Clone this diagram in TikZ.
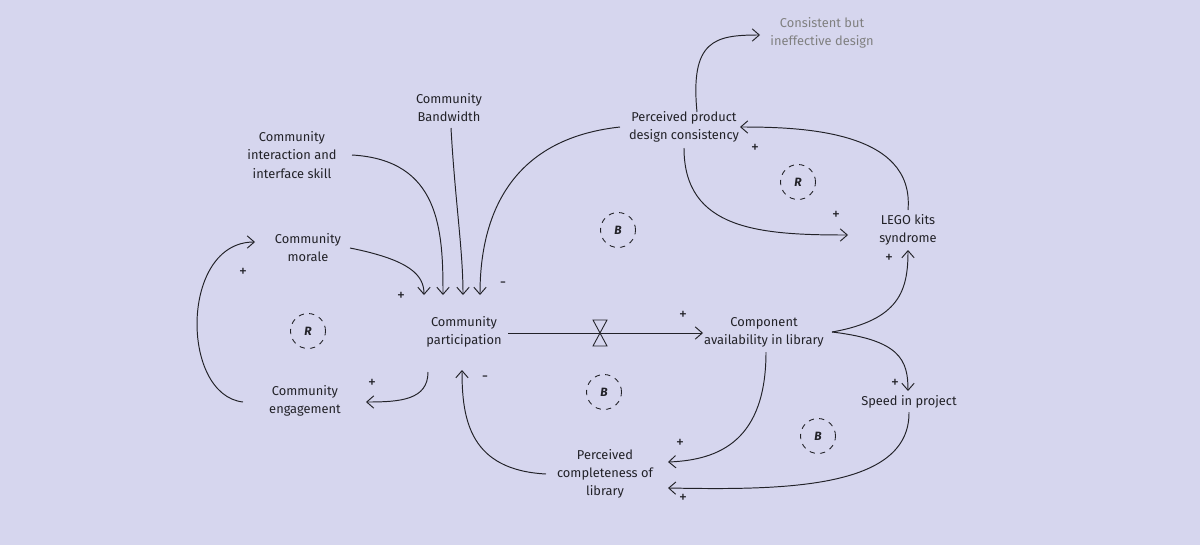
\documentclass[tikz,border=0pt]{standalone}
\usepackage{fontspec}
\setmainfont{Fira Sans}[Scale=0.95]
\usetikzlibrary{arrows.meta}
\definecolor{bg}{HTML}{D6D6EE}
\definecolor{ink}{HTML}{222228}
\begin{document}
\begin{tikzpicture}[x=0.02cm,y=-0.02cm,
  lbl/.style={align=center,text=ink,font=\fontsize{7.7}{10.3}\selectfont,inner sep=1pt},
  ed/.style={draw=ink,line width=0.55pt,-{Straight Barb[length=4pt,width=7pt]}},
  sg/.style={text=ink,font=\fontsize{9.5}{10}\selectfont,inner sep=0pt},
  loop/.style={circle,draw=ink,dashed,minimum size=0.7cm,line width=0.5pt,font=\fontsize{7.2}{8}\selectfont\bfseries\itshape,text=ink}]
\fill[bg] (0,0) rectangle (1200,545);
\node[lbl,text=gray] (cons) at (822,33) {Consistent but\\ineffective design};
\node[lbl] (ppd) at (684,127) {Perceived product\\design consistency};
\node[lbl] (cb) at (449,108) {Community\\Bandwidth};
\node[lbl] (cis) at (292,155) {Community\\interaction and\\interface skill};
\node[lbl] (cm) at (308,248) {Community\\morale};
\node[lbl] (cp) at (464,332) {Community\\participation};
\node[lbl] (cal) at (764,332) {Component\\availability in library};
\node[lbl] (lego) at (908,230) {LEGO kits\\syndrome};
\node[lbl] (ce) at (305,401) {Community\\engagement};
\node[lbl] (sp) at (909,402) {Speed in project};
\node[lbl] (pcl) at (605,474) {Perceived\\completeness of\\library};
\node[loop] (l1) at (618,230) {B};
\node[loop] (l2) at (798,182) {R};
\node[loop] (l3) at (308,331) {R};
\node[loop] (l4) at (604,392) {B};
\node[loop] (l5) at (818,436) {B};
\draw[ed] (684,148) .. controls (684,230) and (760,235) .. (848,235);
\draw[ed] (908,210) .. controls (915,130) and (800,127) .. (740,127);
\draw[ed] (697,112) .. controls (690,40) and (715,35) .. (760,35);
\draw[ed] (620,127) .. controls (500,140) and (480,230) .. (480,295);
\draw[ed] (451,128) .. controls (455,200) and (463,250) .. (463,295);
\draw[ed] (352,155) .. controls (440,160) and (443,230) .. (443,295);
\draw[ed] (350,248) .. controls (410,260) and (424,275) .. (424,295);
\draw[ed] (508,333) -- (703,333);
\draw[draw=ink,line width=0.5pt,fill=bg] (593,320) -- (607,320) -- (593,346) -- (607,346) -- cycle;
\draw[ed] (832,332) .. controls (900,320) and (908,290) .. (908,250);
\draw[ed] (832,332) .. controls (900,340) and (908,360) .. (908,391);
\draw[ed] (766,352) .. controls (766,440) and (720,460) .. (668,462);
\draw[ed] (909,412) .. controls (910,490) and (780,490) .. (668,488);
\draw[ed] (546,474) .. controls (470,470) and (462,420) .. (462,370);
\draw[ed] (428,372) .. controls (428,400) and (400,402) .. (366,402);
\draw[ed] (243,402) .. controls (180,395) and (180,242) .. (255,242);
\node[sg] at (755,148) {+};
\node[sg] at (836,215) {+};
\node[sg] at (889,258) {+};
\node[sg] at (683,315) {+};
\node[sg] at (895,383) {+};
\node[sg] at (680,443) {+};
\node[sg] at (683,498) {+};
\node[sg] at (485,379) {-};
\node[sg] at (372,383) {+};
\node[sg] at (243,272) {+};
\node[sg] at (401,296) {+};
\node[sg] at (503,285) {-};
\end{tikzpicture}
\end{document}
